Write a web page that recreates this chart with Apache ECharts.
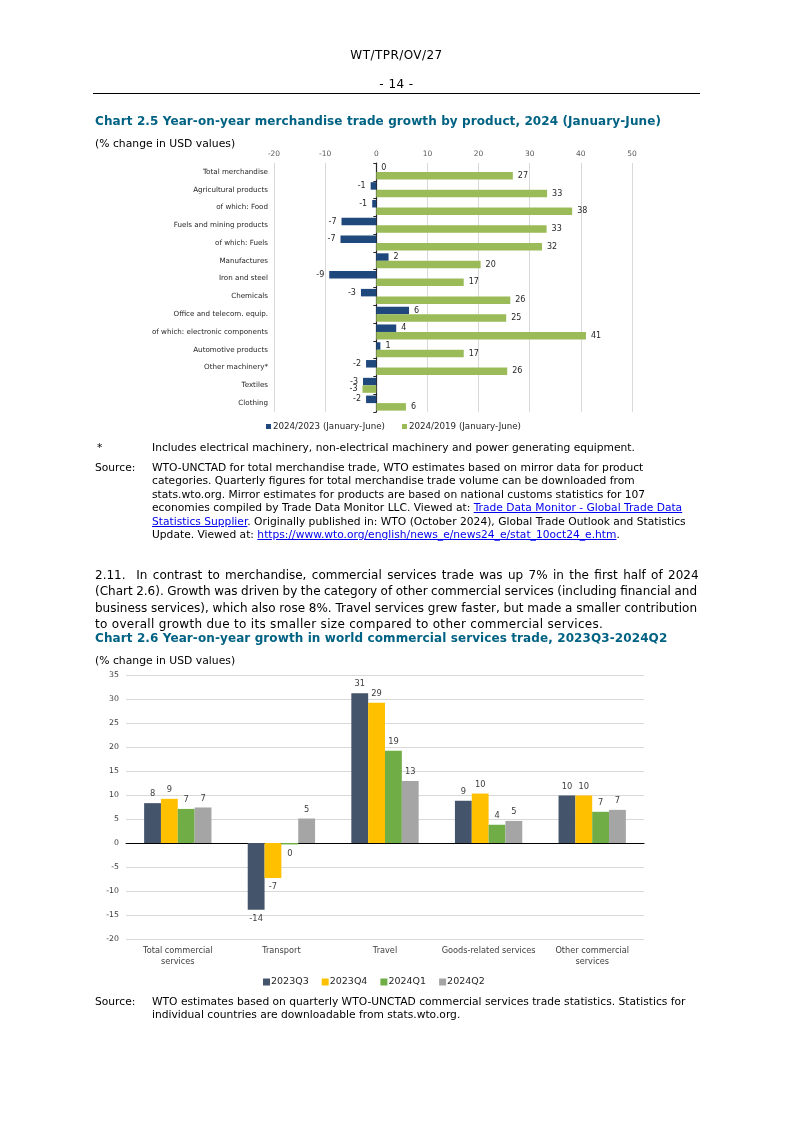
<!DOCTYPE html>
<html><head><meta charset="utf-8">
<script src="https://cdn.jsdelivr.net/npm/echarts@6/dist/echarts.min.js"></script>
<style>
html,body{margin:0;padding:0;background:#fff;}
#page{position:relative;width:793px;height:1121px;overflow:hidden;font-family:"DejaVu Sans",Verdana,sans-serif;color:#000;}
#chart{position:absolute;left:0;top:0;width:793px;height:1121px;}
.t{position:absolute;white-space:pre;}
.hd{font-size:12px;letter-spacing:0.45px;line-height:14px;left:0;width:793px;text-align:center;}
.title{font-size:12px;letter-spacing:0.1px;font-weight:bold;color:#006283;line-height:14px;left:95px;}
.unit{font-size:10.8px;line-height:13px;left:95px;}
.note{font-size:10.7px;line-height:13.4px;}
.para{position:absolute;font-size:12px;letter-spacing:0;line-height:16.3px;left:95px;width:602px;}
.para span{display:block;white-space:nowrap;width:max-content;}
.para span.last{letter-spacing:0.3px;}
a{color:#0000EE;text-decoration:underline;}
</style></head>
<body><div id="page">
<div id="chart"></div>
<div class="t hd" style="top:48px">WT/TPR/OV/27</div>
<div class="t hd" style="top:77px">- 14 -</div>
<div style="position:absolute;left:93px;top:93px;width:607px;height:1px;background:#000"></div>
<div class="t title" style="top:114px">Chart 2.5 Year-on-year merchandise trade growth by product, 2024 (January-June)</div>
<div class="t unit" style="top:137px">(% change in USD values)</div>

<div class="t note" style="left:97px;top:441px">*</div>
<div class="t note" style="left:152px;top:441px">Includes electrical machinery, non-electrical machinery and power generating equipment.</div>
<div class="t note" style="left:95px;top:461px">Source:</div>
<div class="t note" style="left:152px;top:461px">WTO-UNCTAD for total merchandise trade, WTO estimates based on mirror data for product
categories. Quarterly figures for total merchandise trade volume can be downloaded from
stats.wto.org. Mirror estimates for products are based on national customs statistics for 107
economies compiled by Trade Data Monitor LLC. Viewed at: <a>Trade Data Monitor - Global Trade Data</a>
<a>Statistics Supplier</a>. Originally published in: WTO (October 2024), Global Trade Outlook and Statistics
Update. Viewed at: <a>https://www.wto.org/english/news_e/news24_e/stat_10oct24_e.htm</a>.</div>

<div class="para" style="top:567px"><span class="j">2.11.&nbsp; In contrast to merchandise, commercial services trade was up 7% in the first half of 2024</span><span class="j">(Chart 2.6). Growth was driven by the category of other commercial services (including financial and</span><span class="j">business services), which also rose 8%. Travel services grew faster, but made a smaller contribution</span><span class="last">to overall growth due to its smaller size compared to other commercial services.</span></div>

<div class="t title" style="top:631px">Chart 2.6 Year-on-year growth in world commercial services trade, 2023Q3-2024Q2</div>
<div class="t unit" style="top:654px">(% change in USD values)</div>

<div class="t note" style="left:95px;top:995px">Source:</div>
<div class="t note" style="left:152px;top:995px">WTO estimates based on quarterly WTO-UNCTAD commercial services trade statistics. Statistics for
individual countries are downloadable from stats.wto.org.</div>
</div>
<script>
// justify paragraph lines to the text block width
document.querySelectorAll('.para span.j').forEach(function (s) {
  var w = s.getBoundingClientRect().width;
  var n = (s.textContent.match(/ /g) || []).length;
  if (n > 0) s.style.wordSpacing = ((602 - w) / n) + 'px';
});

// ---- Chart 2.5 data ----
const products = ['Total merchandise','Agricultural products','of which: Food','Fuels and mining products','of which: Fuels','Manufactures','Iron and steel','Chemicals','Office and telecom. equip.','of which: electronic components','Automotive products','Other machinery*','Textiles','Clothing'];
const growth2024vs2023 = [0, -1.1, -0.8, -6.8, -7.0, 2.4, -9.2, -3.0, 6.4, 3.9, 0.8, -2.0, -2.6, -2.0];
const growth2024vs2019 = [26.7, 33.4, 38.3, 33.3, 32.4, 20.4, 17.1, 26.2, 25.4, 41.0, 17.1, 25.6, -2.7, 5.8];
const productSeriesNames = ['2024/2023 (January-June)','2024/2019 (January-June)'];
const productAxisMin = -20, productAxisMax = 50, productAxisStep = 10;

// ---- Chart 2.6 data ----
const serviceCategories = ['Total commercial\nservices','Transport','Travel','Goods-related services','Other commercial\nservices'];
const quarterNames = ['2023Q3','2023Q4','2024Q1','2024Q2'];
const q2023Q3 = [8.3, -13.9, 31.2, 8.8, 9.9];
const q2023Q4 = [9.2, -7.3, 29.2, 10.3, 9.9];
const q2024Q1 = [7.1, -0.3, 19.2, 3.8, 6.5];
const q2024Q2 = [7.4, 5.1, 12.9, 4.6, 6.9];
const serviceAxisMin = -20, serviceAxisMax = 35, serviceAxisStep = 5;

const FONT = '"DejaVu Sans", Verdana, sans-serif';
const fmt = p => String(Math.round(p.value) || 0);

function barData(values, posPos, negPos) {
  return values.map(v => ({ value: v, label: { position: v < 0 ? negPos : posPos } }));
}

const chart = echarts.init(document.getElementById('chart'), null, { renderer: 'canvas' });
const blue = '#1F497D', green = '#9BBB59';
const qColors = ['#44546A', '#FFC000', '#70AD47', '#A5A5A5'];
const qData = [q2023Q3, q2023Q4, q2024Q1, q2024Q2];

chart.setOption({
  animation: false,
  textStyle: { fontFamily: FONT },
  grid: [
    { left: 274, right: 161, top: 163, height: 249, containLabel: false },
    { left: 126, right: 149, top: 675, height: 264, containLabel: false }
  ],
  legend: [
    { data: productSeriesNames, left: 261, top: 417, itemWidth: 5, itemHeight: 5, itemGap: 17, icon: 'rect',
      textStyle: { fontSize: 8.7, color: '#262626', fontFamily: FONT, padding: [0, 0, 0, -3] } },
    { data: quarterNames, left: 258, top: 972, itemWidth: 7, itemHeight: 7, itemGap: 13, icon: 'rect',
      textStyle: { fontSize: 9.5, color: '#262626', fontFamily: FONT, padding: [0, 0, 0, -4] } }
  ],
  xAxis: [
    { type: 'value', gridIndex: 0, position: 'top', min: productAxisMin, max: productAxisMax, interval: productAxisStep,
      axisLine: { show: false }, axisTick: { show: false },
      axisLabel: { fontSize: 7.5, color: '#595959', margin: 5, fontFamily: FONT },
      splitLine: { lineStyle: { color: '#D9D9D9', width: 1 } } },
    { type: 'category', gridIndex: 1, data: serviceCategories, position: 'bottom',
      axisLine: { show: false, onZero: false }, axisTick: { show: false },
      axisLabel: { fontSize: 8.2, color: '#404040', margin: 7, lineHeight: 10.5, fontFamily: FONT, interval: 0 } },
    { type: 'category', gridIndex: 1, data: serviceCategories, position: 'bottom',
      axisLine: { show: true, onZero: true, lineStyle: { color: '#000', width: 1 } }, axisTick: { show: false },
      axisLabel: { show: false } }
  ],
  yAxis: [
    { type: 'category', gridIndex: 0, data: products, inverse: true, position: 'left',
      axisLine: { show: false, onZero: false }, axisTick: { show: false },
      axisLabel: { fontSize: 7.15, color: '#262626', margin: 6, fontFamily: FONT } },
    { type: 'category', gridIndex: 0, data: products, inverse: true, position: 'left',
      axisLine: { show: true, onZero: true, lineStyle: { color: '#262626', width: 1.2 } },
      axisTick: { show: true, length: 3, lineStyle: { color: '#262626' } },
      axisLabel: { show: false } },
    { type: 'value', gridIndex: 1, min: serviceAxisMin, max: serviceAxisMax, interval: serviceAxisStep,
      axisLine: { show: false }, axisTick: { show: false },
      axisLabel: { fontSize: 7.8, color: '#404040', margin: 7, fontFamily: FONT },
      splitLine: { lineStyle: { color: '#D9D9D9', width: 1 } } }
  ],
  series: [
    { name: productSeriesNames[0], type: 'bar', xAxisIndex: 0, yAxisIndex: 0, barWidth: 7.5, barGap: '0%',
      itemStyle: { color: blue }, data: barData(growth2024vs2023, 'right', 'left'),
      label: { show: true, formatter: fmt, fontSize: 8, color: '#262626', distance: 5, fontFamily: FONT } },
    { name: productSeriesNames[1], type: 'bar', xAxisIndex: 0, yAxisIndex: 0, barWidth: 7.5, barGap: '0%',
      itemStyle: { color: green }, data: barData(growth2024vs2019, 'right', 'left'),
      label: { show: true, formatter: fmt, fontSize: 8, color: '#262626', distance: 5, fontFamily: FONT } }
  ].concat(quarterNames.map((n, i) => ({
    name: n, type: 'bar', xAxisIndex: 1, yAxisIndex: 2, barCategoryGap: '35%', barGap: '0%',
    itemStyle: { color: qColors[i] }, data: barData(qData[i], 'top', 'bottom'),
    label: { show: true, formatter: fmt, fontSize: 8.3, color: '#404040', distance: 5, fontFamily: FONT }
  })))
});
</script>
</body></html>
